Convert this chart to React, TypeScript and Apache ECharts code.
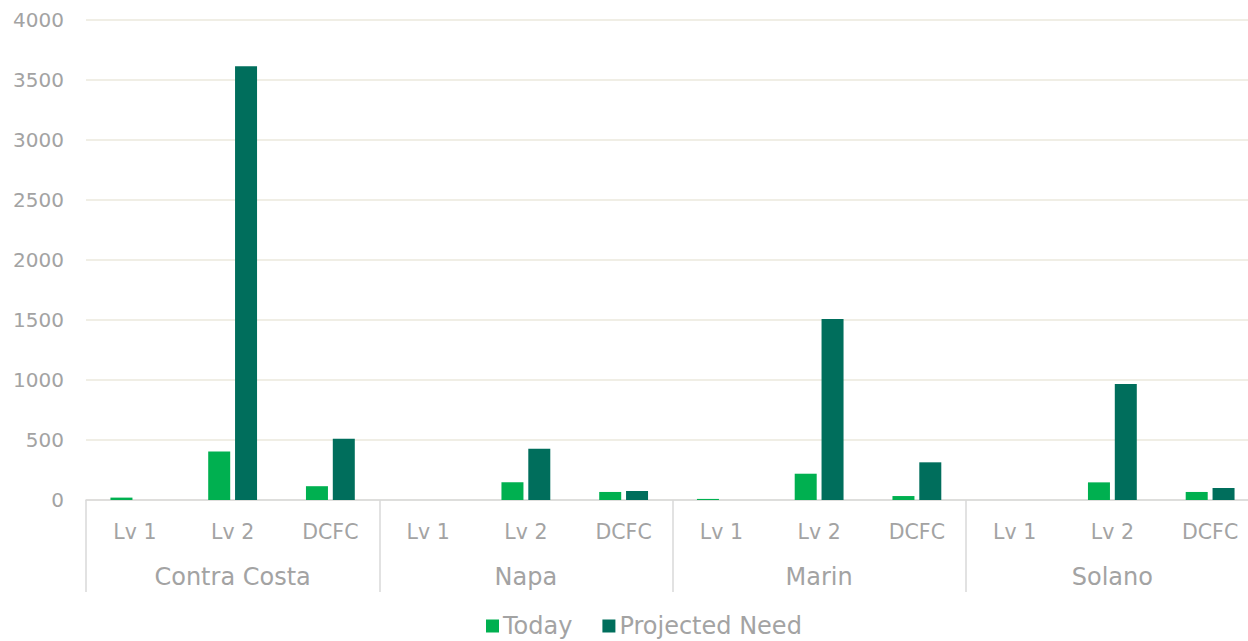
import React, { useEffect, useRef } from "react";
import * as echarts from "echarts";

const groups = ["Contra Costa", "Napa", "Marin", "Solano"];
const levels = ["Lv 1", "Lv 2", "DCFC"];
const today = [20, 405, 115, 0, 147, 67, 9, 219, 33, 0, 147, 67];
const projected = [0, 3615, 510, 0, 428, 75, 0, 1508, 314, 0, 967, 100];
const yTicks = { min: 0, max: 4000, interval: 500 };

const FONT = "'DejaVu Sans', sans-serif";
const TXT = "#a3a3a3";

export default function App() {
  const ref = useRef<HTMLDivElement>(null);
  useEffect(() => {
    document.body.style.margin = "0";
    const chart = echarts.init(ref.current!, null, { renderer: "svg" });
    const cats: string[] = [];
    groups.forEach(() => levels.forEach((l) => cats.push(l)));
    chart.setOption({
      animation: false,
      grid: {
        left: 86,
        width: 1173,
        top: 20,
        height: 480,
        containLabel: false,
        outerBoundsMode: "none",
      },
      legend: {
        top: 614,
        left: 486,
        padding: 0,
        icon: "rect",
        itemWidth: 13,
        itemHeight: 13,
        itemGap: 30,
        textStyle: { fontFamily: FONT, fontSize: 24, color: TXT, padding: [0, 0, 0, -1] },
        data: ["Today", "Projected Need"],
      },
      xAxis: [
        {
          type: "category",
          data: cats,
          axisLine: { lineStyle: { color: "#d9d9d9", width: 1.5 } },
          axisTick: {
            show: true,
            length: 92,
            interval: (i: number) => i % 3 === 0,
            lineStyle: { color: "#d9d9d9", width: 1.5 },
          },
          axisLabel: { interval: 0, margin: 21, fontFamily: FONT, fontSize: 20.5, color: TXT },
        },
        {
          type: "category",
          data: groups,
          position: "bottom",
          axisLine: { show: false },
          axisTick: { show: false },
          axisLabel: { interval: 0, margin: 65, fontFamily: FONT, fontSize: 24, color: TXT },
        },
      ],
      yAxis: {
        type: "value",
        min: yTicks.min,
        max: yTicks.max,
        interval: yTicks.interval,
        axisLine: { show: false },
        axisTick: { show: false },
        splitLine: { lineStyle: { color: "#ebe8dd", width: 1.5 } },
        axisLabel: {
          margin: 22,
          fontFamily: FONT,
          fontSize: 20,
          color: TXT,
          formatter: (v: number) => String(v),
        },
      },
      series: [
        {
          name: "Today",
          type: "bar",
          data: today,
          barWidth: 22,
          barGap: "22%",
          itemStyle: { color: "#00b050" },
        },
        {
          name: "Projected Need",
          type: "bar",
          data: projected,
          barWidth: 22,
          barGap: "22%",
          itemStyle: { color: "#006e5c" },
        },
      ],
    });
    return () => chart.dispose();
  }, []);
  return <div ref={ref} style={{ width: 1248, height: 641 }} />;
}
